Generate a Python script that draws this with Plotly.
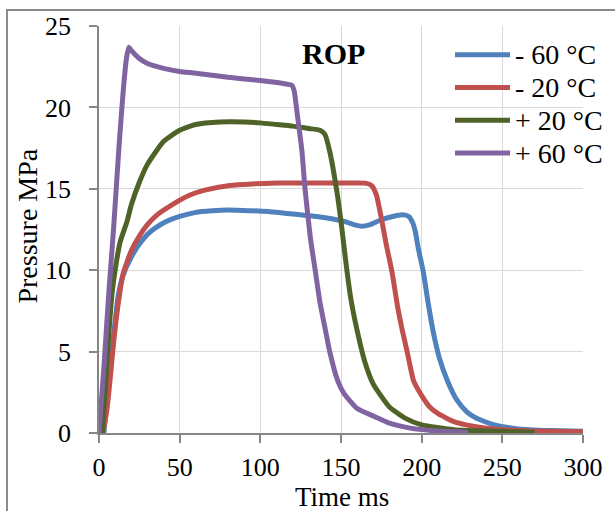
import plotly.graph_objects as go

# Pressure traces (time in ms, pressure in MPa) for the ROP test at four temperatures
t_m60 = [3, 6, 9, 12, 15, 20, 25, 30, 35, 42, 50, 60, 70, 80, 95, 105, 115, 125, 135, 145,
         152, 158, 163, 168, 175, 182, 188, 192, 194.5, 196, 198, 201, 204, 207, 211, 216,
         222, 228, 234, 245, 260, 280, 300]
p_m60 = [0, 3, 6, 8.5, 9.7, 10.8, 11.6, 12.2, 12.6, 13.0, 13.3, 13.55, 13.65, 13.7, 13.65,
         13.6, 13.5, 13.4, 13.3, 13.15, 13.0, 12.8, 12.7, 12.8, 13.1, 13.3, 13.4, 13.3, 12.9,
         12.4, 11.3, 9.9, 8.0, 6.3, 4.6, 3.2, 2.0, 1.3, 0.9, 0.5, 0.25, 0.15, 0.1]

t_m20 = [2.5, 5, 6.8, 9, 12, 15, 20, 25, 30, 36, 45, 56, 65, 81, 95, 110, 129, 150, 165,
         169, 172, 175.4, 178, 181.6, 185, 188, 191, 195, 200, 205, 210, 220, 230, 240, 260,
         280, 300]
p_m20 = [0, 1.5, 3.2, 5.5, 8.0, 9.8, 11.2, 12.1, 12.8, 13.4, 14.0, 14.6, 14.9, 15.2, 15.3,
         15.35, 15.35, 15.35, 15.35, 15.2, 14.6, 13.0, 11.6, 9.9, 7.8, 6.3, 5.0, 3.2, 2.3,
         1.6, 1.2, 0.7, 0.45, 0.3, 0.15, 0.1, 0.07]

t_p20 = [2, 4, 6, 8, 10, 13, 17.4, 20, 25, 30, 40, 50, 60, 75, 90, 100, 110, 120, 130, 137,
         140, 143, 147.5, 150, 153, 156, 160, 165, 170, 180, 190, 200, 220, 250, 270]
p_p20 = [0, 3, 6, 8.5, 10, 11.7, 13.0, 14.0, 15.4, 16.5, 17.9, 18.6, 18.95, 19.1, 19.1,
         19.05, 18.95, 18.85, 18.7, 18.6, 18.35, 17.3, 14.8, 13.0, 10.5, 8.3, 6.3, 4.3, 3.0,
         1.6, 0.9, 0.5, 0.2, 0.1, 0.05]

t_p60 = [0, 3, 6, 9, 12.4, 15, 17, 18.5, 20, 25, 30, 40, 50, 60, 80, 100, 115, 119.6, 121,
         123, 125.8, 127.7, 131, 134, 137, 140, 143, 148, 152, 160, 171, 180, 193, 210, 228.7]
p_p60 = [0, 4, 8.5, 12.5, 17.6, 21.0, 23.0, 23.7, 23.5, 23.0, 22.7, 22.4, 22.2, 22.1, 21.85,
         21.65, 21.45, 21.35, 21.0, 19.5, 17.3, 15.0, 12.0, 10.0, 8.0, 6.5, 5.0, 3.2, 2.4,
         1.5, 1.0, 0.6, 0.3, 0.12, 0.05]

series_names = ["- 60 °C", "- 20 °C", "+ 20 °C", "+ 60 °C"]
series_colors = ["#4F81BD", "#C0504D", "#4F6228", "#8064A2"]
series_t = [t_m60, t_m20, t_p20, t_p60]
series_p = [p_m60, p_m20, p_p20, p_p60]

x_ticks = [0, 50, 100, 150, 200, 250, 300]
y_ticks = [0, 5, 10, 15, 20, 25]

W, H = 615, 511
L, R, T, B = 99, 583, 23, 433  # plot area edges in pixels

def px_x(p):
    return (p - L) / (R - L)

def px_y(p):
    return (B - p) / (B - T)

FONT = "Liberation Serif"

fig = go.Figure()
for name, color, t, p in zip(series_names, series_colors, series_t, series_p):
    fig.add_trace(go.Scatter(x=t, y=p, mode="lines", name=name,
                             line=dict(color=color, width=5, shape="spline", smoothing=0.5),
                             showlegend=False))

axis_common = dict(
    showgrid=True, gridcolor="#D9D9D9", gridwidth=1,
    showline=True, linecolor="#868686", linewidth=1.5,
    ticks="outside", ticklen=8, tickcolor="#868686", tickwidth=1.5,
    tickfont=dict(family=FONT, size=26, color="black"),
    zeroline=False,
)

fig.update_layout(
    width=W, height=H,
    font=dict(family=FONT, color="black"),
    margin=dict(l=L, r=W - R, t=T, b=H - B, pad=0),
    paper_bgcolor="white", plot_bgcolor="white",
    xaxis=dict(range=[0, 300], tickvals=x_ticks, ticklabelstandoff=2, **axis_common),
    yaxis=dict(range=[0, 25], tickvals=y_ticks, ticklabelstandoff=13, **axis_common),
    showlegend=False,
)

# Chart frame
fig.add_shape(type="rect", xref="paper", yref="paper",
              x0=px_x(7), x1=px_x(W + 20), y0=px_y(H + 20), y1=px_y(7),
              line=dict(color="#8C8C8C", width=2), fillcolor="rgba(0,0,0,0)", layer="below")

# Axis titles and chart title
fig.add_annotation(text="Time ms", xref="paper", yref="paper", x=px_x(342), y=px_y(497),
                   showarrow=False, font=dict(family=FONT, size=27, color="black"),
                   xanchor="center", yanchor="middle")
fig.add_annotation(text="Pressure MPa", xref="paper", yref="paper", x=px_x(28), y=px_y(225),
                   textangle=-90, showarrow=False,
                   font=dict(family=FONT, size=28, color="black"),
                   xanchor="center", yanchor="middle")
fig.add_annotation(text="<b>ROP</b>", xref="paper", yref="paper", x=px_x(333), y=px_y(51),
                   showarrow=False, font=dict(family=FONT, size=30, color="black"),
                   xanchor="center", yanchor="middle")

# Legend: sample line plus label for each series
legend_rows = [52, 85, 118, 151]
for name, color, row in zip(series_names, series_colors, legend_rows):
    fig.add_shape(type="line", xref="paper", yref="paper",
                  x0=px_x(455), x1=px_x(510), y0=px_y(row), y1=px_y(row),
                  line=dict(color=color, width=5))
    fig.add_annotation(text=name, xref="paper", yref="paper", x=px_x(513), y=px_y(row),
                       showarrow=False, xanchor="left", yanchor="middle",
                       font=dict(family=FONT, size=28, color="black"))

fig.write_html("out.html")
